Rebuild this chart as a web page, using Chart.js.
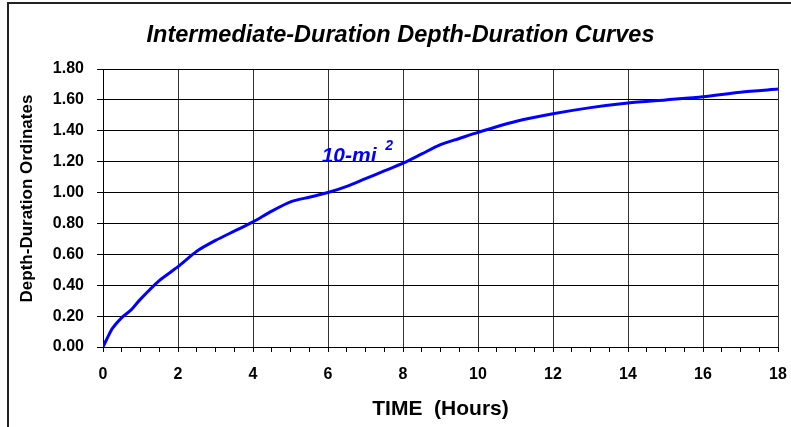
<!DOCTYPE html>
<html>
<head>
<meta charset="utf-8">
<script src="https://cdn.jsdelivr.net/npm/chart.js@4/dist/chart.umd.min.js"></script>
<style>
  html, body { margin: 0; padding: 0; background: #fff; }
  #wrap  { position: relative; width: 791px; height: 427px; overflow: hidden; }
  #frame { position: absolute; left: 7px; top: 2px; width: 900px; height: 500px;
           border: 2px solid #222; pointer-events: none; }
  canvas { position: absolute; left: 0; top: 0; }
</style>
</head>
<body>
<div id="wrap">
  <canvas id="ddChart" width="791" height="427"></canvas>
  <div id="frame"></div>
</div>
<script>
// Data (10-sq-mi)
const hours = [0, 0.1, 0.25, 0.5, 0.75, 1, 1.5, 2, 2.5, 3, 3.5, 4, 4.5, 5, 5.5, 6,
               6.5, 7, 7.5, 8, 8.5, 9, 9.5, 10, 11, 12, 13, 14, 15, 16, 17, 18];
const ordinates = [0, 0.05, 0.12, 0.19, 0.24, 0.31, 0.43, 0.52, 0.62, 0.69, 0.75, 0.81,
                   0.88, 0.94, 0.97, 1.00, 1.04, 1.09, 1.14, 1.19, 1.25, 1.31, 1.35,
                   1.39, 1.46, 1.51, 1.55, 1.58, 1.60, 1.62, 1.65, 1.67];
const curveLabel = '10-mi';
const curveLabelSup = '2';
const curveLabelAt = { x: 5.83, y: 1.2 };

const FONT = "'Liberation Sans', Arial, sans-serif";
const BLUE = '#0000ff';

//  Curve label (10-mi²) anchored through the scales
const curveLabelPlugin = {
  id: 'curveLabel',
  afterDatasetsDraw(chart) {
    const { ctx, scales } = chart;
    const x = scales.x.getPixelForValue(curveLabelAt.x);
    const y = scales.y.getPixelForValue(curveLabelAt.y);
    ctx.save();
    ctx.fillStyle = BLUE;
    ctx.textBaseline = 'alphabetic';
    ctx.font = `italic bold 21px ${FONT}`;
    ctx.fillText(curveLabel, x, y);
    const w = ctx.measureText(curveLabel + ' ').width;
    ctx.font = `italic bold 14px ${FONT}`;
    ctx.fillText(curveLabelSup, x + w + 3, y - 12);
    ctx.restore();
  }
};

new Chart(document.getElementById('ddChart'), {
  type: 'line',
  data: {
    datasets: [{
      data:        hours.map((h, i) => ({ x: h, y: ordinates[i] })),
      borderColor: BLUE,
      borderWidth: 3,
      pointRadius: 0,
      tension:     0.25,
      fill:        false,
    }]
  },
  options: {
    responsive: false,
    animation: false,
    layout: { padding: { left: 23, right: 13, top: 0, bottom: 0 } },
    plugins: {
      legend:  { display: false },
      tooltip: { enabled: false },
      title: {
        display: true,
        text: 'Intermediate-Duration Depth-Duration Curves',
        color: '#000',
        font: { family: FONT, size: 23.5, style: 'italic', weight: 'bold' },
        padding: { top: 21.5, bottom: 19.3 },
      }
    },
    scales: {
      x: {
        type: 'linear',
        min: 0, max: 18,
        afterFit(scale) {
          scale.height = 80;
          scale.paddingLeft = 0;
          scale.paddingRight = 0;
        },
        ticks: {
          stepSize: 0.5,
          autoSkip: false,
          maxRotation: 0,
          padding: 13,
          color: '#000',
          font: { family: FONT, size: 16, weight: 'bold' },
          callback: v => (v % 2 === 0 ? v : ''),
        },
        grid: {
          color: c => (c.tick && c.tick.value % 2 === 0 ? '#333' : 'rgba(0,0,0,0)'),
          tickColor: '#000',
          tickLength: 5,
          lineWidth: 1,
        },
        border: { color: '#000', width: 1 },
        title: {
          display: true,
          text: 'TIME  (Hours)',
          color: '#000',
          font: { family: FONT, size: 21, weight: 'bold' },
          padding: { top: 0, bottom: 5 },
        }
      },
      y: {
        min: 0, max: 1.8,
        afterFit(scale) { scale.width = 80; },
        ticks: {
          stepSize: 0.2,
          padding: 13,
          color: '#000',
          font: { family: FONT, size: 16, weight: 'bold' },
          callback: v => v.toFixed(2),
        },
        grid: {
          color: '#000',
          tickColor: '#000',
          tickLength: 6,
          lineWidth: 1,
        },
        border: { color: '#000', width: 1 },
        title: {
          display: true,
          text: '    Depth-Duration Ordinates',
          color: '#000',
          font: { family: FONT, size: 17, weight: 'bold' },
          padding: { top: -6, bottom: 0 },
        }
      }
    }
  },
  plugins: [curveLabelPlugin]
});
</script>
</body>
</html>
